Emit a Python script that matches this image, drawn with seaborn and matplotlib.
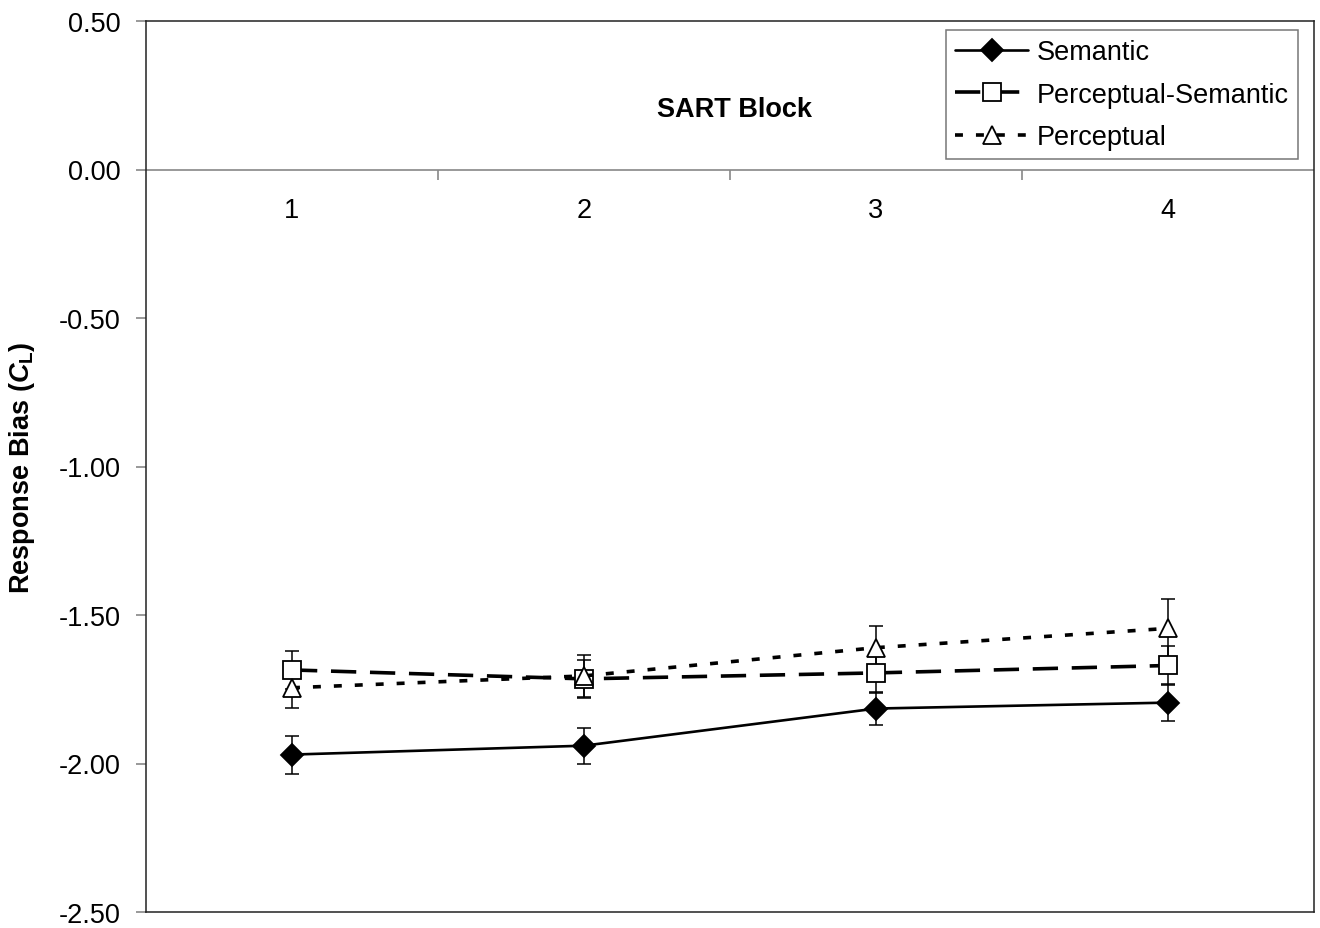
import numpy as np
import pandas as pd
import matplotlib
matplotlib.use("Agg")
import matplotlib.pyplot as plt
from matplotlib.ticker import FormatStrFormatter
import seaborn as sns

# ---- data ----
blocks = [1, 2, 3, 4]
block_labels = ["1", "2", "3", "4"]
semantic = [-1.97, -1.94, -1.815, -1.795]
semantic_se = [0.064, 0.060, 0.055, 0.062]
perc_sem = [-1.685, -1.715, -1.695, -1.670]
perc_sem_se = [0.064, 0.065, 0.067, 0.066]
perceptual = [-1.745, -1.705, -1.610, -1.545]
perceptual_se = [0.067, 0.070, 0.074, 0.100]
series_names = ["Semantic", "Perceptual-Semantic", "Perceptual"]
y_ticks = [-2.5, -2.0, -1.5, -1.0, -0.5, 0.0, 0.5]

sns.set_theme(style="white")
plt.rcParams["font.family"] = ["Liberation Sans", "DejaVu Sans"]
plt.rcParams["text.color"] = "black"
plt.rcParams["axes.labelcolor"] = "black"
plt.rcParams["xtick.color"] = "black"
plt.rcParams["ytick.color"] = "black"
plt.rcParams["mathtext.fontset"] = "custom"
plt.rcParams["mathtext.rm"] = "Liberation Sans:bold"
plt.rcParams["mathtext.bf"] = "Liberation Sans:bold"
plt.rcParams["mathtext.it"] = "Liberation Sans:italic:bold"

W, H = 1320, 929
fig = plt.figure(figsize=(W / 100, H / 100), dpi=100)
ax = fig.add_axes([146 / W, 1 - 913 / H, 1168 / W, 891 / H])

styles = [
    dict(vals=semantic, se=semantic_se, marker="D", mfc="black", ms=11, lw=1.9, dashes=None),
    dict(vals=perc_sem, se=perc_sem_se, marker="s", mfc="white", ms=12.5, lw=2.6, dashes=(7.0, 3.8)),
    dict(vals=perceptual, se=perceptual_se, marker="^", mfc="white", ms=13, lw=2.6, dashes=(2.2, 3.6)),
]

handles = []
for name, st in zip(series_names, styles):
    df = pd.DataFrame({"block": blocks, "value": st["vals"]})
    ax.errorbar(df["block"], df["value"], yerr=st["se"], fmt="none", ecolor="black",
                elinewidth=1.1, capsize=5, capthick=1.1, zorder=2)
    sns.lineplot(data=df, x="block", y="value", ax=ax, color="black", linewidth=st["lw"],
                 marker=st["marker"], markersize=st["ms"], markerfacecolor=st["mfc"],
                 markeredgecolor="black", markeredgewidth=1.3, label=name, zorder=3,
                 legend=False)
    line = ax.lines[-1]
    if st["dashes"] is not None:
        line.set_dashes(st["dashes"])
    handles.append(line)

FS = 19.5
ax.set_xlim(0.5, 4.5)
ax.set_ylim(-2.5, 0.5)
ax.set_xticks([])
ax.set_xlabel("")
ax.set_yticks(y_ticks)
ax.yaxis.set_major_formatter(FormatStrFormatter("%.2f"))
ax.tick_params(axis="y", which="major", left=True, length=7, width=1.2, color="#888888",
               labelsize=FS, pad=11, labelcolor="black")
for s in ax.spines.values():
    s.set_visible(True)
    s.set_color("#222222")
    s.set_linewidth(1.1)

# category axis drawn at y = 0
ax.axhline(0, color="#888888", lw=1.2, zorder=1)
sec = ax.secondary_xaxis(2.5 / 3.0)
sec.set_xticks(blocks)
sec.set_xticklabels(block_labels)
sec.set_xticks([1.5, 2.5, 3.5], minor=True)
sec.xaxis.set_ticks_position("bottom")
sec.tick_params(axis="x", which="major", length=0, labelsize=FS, pad=20, labelcolor="black")
sec.tick_params(axis="x", which="minor", length=7, width=1.2, color="#888888", direction="out")
for s in sec.spines.values():
    s.set_visible(False)

ax.text(0.504, 0.901, "SART Block", transform=ax.transAxes, ha="center", va="center",
        fontsize=FS, fontweight="bold", color="black")

ax.set_ylabel(r"Response Bias ($\mathit{C}_{\mathrm{L}}$)", fontsize=FS, fontweight="bold",
              color="black")
ax.yaxis.set_label_coords(-0.093, 0.5)

leg = ax.legend(handles, series_names, loc="upper right",
                bbox_to_anchor=(1298 / W, 1 - 31 / H), bbox_transform=fig.transFigure,
                borderaxespad=0, fontsize=FS, handlelength=2.7, numpoints=1,
                frameon=True, fancybox=False, framealpha=1, edgecolor="#777777",
                labelspacing=0.6, handletextpad=0.3, borderpad=0.35)
leg.get_frame().set_linewidth(1.1)
for t in leg.get_texts():
    t.set_color("black")

fig.savefig("out.png", dpi=100, facecolor="white")
